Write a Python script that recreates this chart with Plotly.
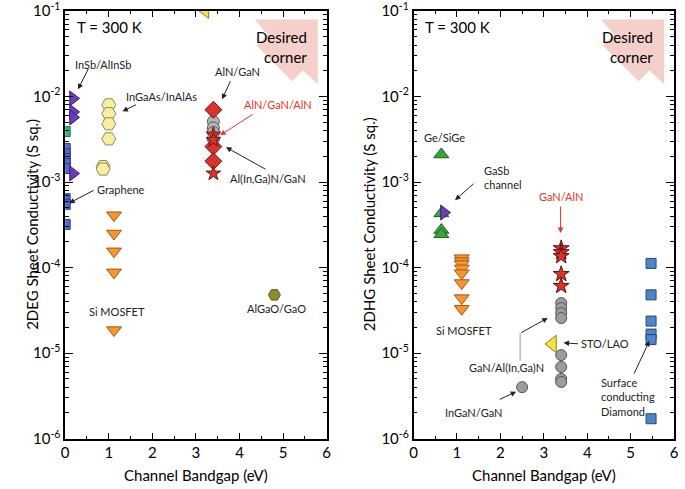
import plotly.graph_objects as go

W, H = 685, 489

# the photographed page comes out squeezed vertically (~0.963, ~9.5 px down);
# target pixel positions below are from the reference and are mapped through this
Y_OFF, Y_SCALE = 9.5, 0.963


def px(x):
    return x / W


def py(y):
    return min(1.0, 1 - (y - Y_OFF) / Y_SCALE / H)


# ---------------- 2DEG panel data ----------------
graphene_x = [0, 0, 0, 0, 0, 0, 0, 0]
graphene_y = [2.47e-3, 2.15e-3, 1.88e-3, 1.65e-3, 1.44e-3, 6.4e-4, 5.5e-4, 3.2e-4]
teal_x = [0]
teal_y = [3.9e-3]
insb_x = [0.18, 0.18, 0.18, 0.18]
insb_y = [9.5e-3, 6.6e-3, 5.7e-3, 1.26e-3]
ingaas_x = [1.0, 1.0, 1.0, 1.0, 0.87, 0.87]
ingaas_y = [8.0e-3, 6.3e-3, 4.8e-3, 3.2e-3, 1.52e-3, 1.42e-3]
si_e_x = [1.12, 1.12, 1.12, 1.12, 1.12]
si_e_y = [4.1e-4, 2.5e-4, 1.55e-4, 8.8e-5, 1.86e-5]
algao_x = [4.8]
algao_y = [4.8e-5]
sto_e_x = [3.2]
sto_e_y = [0.105]
gan_e_circ_x = [3.4, 3.4, 3.4, 3.4]
gan_e_circ_y = [5.1e-3, 4.3e-3, 3.8e-3, 3.2e-3]
aln_diam_x = [3.4, 3.4, 3.4]
aln_diam_y = [7.0e-3, 2.6e-3, 1.75e-3]
alnganaln_x = [3.4, 3.4, 3.4]
alnganaln_y = [3.6e-3, 3.1e-3, 1.26e-3]

# ---------------- 2DHG panel data ----------------
gesige_x = [0.64, 0.64, 0.64, 0.64]
gesige_y = [2.1e-3, 4.3e-4, 2.75e-4, 2.45e-4]
gasb_x = [0.7]
gasb_y = [4.4e-4]
si_h_x = [1.11, 1.11, 1.11, 1.11, 1.11, 1.11, 1.11, 1.11]
si_h_y = [1.29e-4, 1.19e-4, 1.1e-4, 9.8e-5, 8.6e-5, 6.6e-5, 4.4e-5, 3.3e-5]
ganaln_x = [3.4, 3.4, 3.4, 3.4, 3.4]
ganaln_y = [1.68e-4, 1.51e-4, 1.36e-4, 8.4e-5, 6.1e-5]
gan_h_x = [3.4, 3.4, 3.4, 3.4, 3.4, 3.4, 3.4, 3.4]
gan_h_y = [3.85e-5, 3.36e-5, 2.94e-5, 2.57e-5, 9.5e-6, 6.9e-6, 5.0e-6, 4.6e-6]
ingan_x = [2.5]
ingan_y = [4.0e-6]
sto_h_x = [3.2]
sto_h_y = [1.28e-5]
diamond_x = [5.47, 5.47, 5.47, 5.47, 5.47, 5.47]
diamond_y = [1.12e-4, 4.8e-5, 2.37e-5, 1.67e-5, 1.44e-5, 1.71e-6]

y_tickvals = [1e-6, 1e-5, 1e-4, 1e-3, 1e-2, 1e-1]
y_ticktext = ["10<sup>-6</sup>", "10<sup>-5</sup>", "10<sup>-4</sup>",
              "10<sup>-3</sup>", "10<sup>-2</sup>", "10<sup>-1</sup>"]

FONT = "Lato"

fig = go.Figure()


def add(x, y, symbol, color, line, size, xa="x", ya="y"):
    fig.add_trace(go.Scatter(
        x=x, y=y, mode="markers", xaxis=xa, yaxis=ya, showlegend=False,
        marker=dict(symbol=symbol, color=color, size=size,
                    line=dict(color=line, width=1)),
    ))


# left panel
add(graphene_x, graphene_y, "square", "#5468cf", "#2d3a8c", 10)
add(teal_x, teal_y, "square", "#2bb38a", "#1d7a5c", 10)
add(insb_x, insb_y, "triangle-right", "#6a3db8", "#3a1f70", 13)
add(ingaas_x, ingaas_y, "hexagon2", "#f5eea3", "#8c8760", 14)
add(si_e_x, si_e_y, "triangle-down", "#f7952f", "#a05a1c", 13)
add(algao_x, algao_y, "hexagon2", "#8c8c2c", "#5a5a18", 12)
add(sto_e_x, sto_e_y, "triangle-left", "#f2e24a", "#8a7f20", 16)
add(gan_e_circ_x, gan_e_circ_y, "circle", "#b4b4b4", "#5a5a5a", 12)
add(aln_diam_x, aln_diam_y, "diamond", "#d6342c", "#6e1512", 13)
add(alnganaln_x, alnganaln_y, "star", "#d6342c", "#6e1512", 11)

# right panel
add(gesige_x, gesige_y, "triangle-up", "#3aa53a", "#1e5e1e", 13, "x2", "y2")
add(gasb_x, gasb_y, "triangle-right", "#6a3db8", "#3a1f70", 13, "x2", "y2")
add(si_h_x, si_h_y, "triangle-down", "#f7952f", "#a05a1c", 13, "x2", "y2")
add(ganaln_x, ganaln_y, "star", "#d6342c", "#5e1210", 12, "x2", "y2")
add(gan_h_x, gan_h_y, "circle", "#9c9c9c", "#555555", 11, "x2", "y2")
add(ingan_x, ingan_y, "circle", "#9c9c9c", "#555555", 11, "x2", "y2")
add(sto_h_x, sto_h_y, "triangle-left", "#f2e24a", "#8a7f20", 15, "x2", "y2")
add(diamond_x, diamond_y, "square", "#4f86c6", "#24466e", 10, "x2", "y2")

xdom1 = [px(62), px(327)]
xdom2 = [px(415), px(679)]
ydom = [py(438), py(9)]

xa = dict(range=[0, 6], dtick=1, ticks="inside", ticklen=6, tickwidth=1,
          showline=True, linecolor="black", linewidth=1.5, mirror="ticks",
          showgrid=False, zeroline=False, tickcolor="black",
          ticklabeloverflow="allow",
          tickfont=dict(size=15, color="black", family=FONT),
          minor=dict(dtick=0.5, ticks="inside", ticklen=3, tickcolor="black",
                     showgrid=False))
ya = dict(type="log", range=[-6, -1], tickvals=y_tickvals, ticktext=y_ticktext,
          ticks="inside", ticklen=8, tickwidth=1, tickcolor="black",
          showline=True, linecolor="black", linewidth=1.5, mirror="ticks",
          showgrid=False, zeroline=False, ticklabeloverflow="allow",
          tickfont=dict(size=15, color="black", family=FONT),
          minor=dict(dtick="D1", ticks="inside", ticklen=4, tickcolor="black",
                     showgrid=False))

fig.update_layout(
    width=W, height=H, autosize=False,
    margin=dict(l=0, r=0, t=0, b=0),
    paper_bgcolor="white", plot_bgcolor="white",
    font=dict(family=FONT, color="black"),
    xaxis=dict(xa, domain=xdom1, anchor="y"),
    yaxis=dict(ya, domain=ydom, anchor="x"),
    xaxis2=dict(xa, domain=xdom2, anchor="y2"),
    yaxis2=dict(ya, domain=ydom, anchor="x2"),
)

# "Desired corner" arrow shapes
corner = [(254, 18), (318, 18), (318, 83), (303, 69), (292, 80), (256, 44), (267, 33)]
for dx in (0, 351):
    path = "M " + " L ".join(f"{px(x + dx):.4f},{py(y):.4f}" for x, y in corner) + " Z"
    fig.add_shape(type="path", path=path, xref="paper", yref="paper",
                  fillcolor="#f5cfc9", line=dict(width=0), layer="below")


def text(x, y, s, size=11, color="#222222", align="center", xanchor="center"):
    fig.add_annotation(x=px(x), y=py(y), xref="paper", yref="paper", text=s,
                       showarrow=False, font=dict(size=size, color=color, family=FONT),
                       align=align, xanchor=xanchor, yanchor="middle")


def arrow(x0, y0, x1, y1, color="#222222"):
    # tail (x0, y0) -> tip (x1, y1), in reference pixels
    fig.add_annotation(x=px(x1), y=py(y1), xref="paper", yref="paper", text="",
                       showarrow=True, ax=x0 - x1, ay=(y0 - y1) / Y_SCALE,
                       arrowhead=2, arrowsize=1.1, arrowwidth=1, arrowcolor=color)


# left panel labels
text(72, 26, "T = 300 K", size=15, color="black", xanchor="left")
text(281, 46, "Desired<br>corner", size=15, color="black", align="right", xanchor="center")
text(100, 63, "InSb/AlInSb")
arrow(86, 67, 75, 88)
text(160, 95, "InGaAs/InAlAs")
arrow(135, 103, 120, 110)
text(119, 188, "Graphene")
arrow(92, 189, 66, 202)
text(114, 311, "Si MOSFET")
text(276, 308, "AlGaO/GaO")
text(237, 70, "AlN/GaN")
arrow(230, 79, 221, 98)
text(278, 103, "AlN/GaN/AlN", color="#e8322a")
arrow(253, 113, 219, 134, color="#e8322a")
text(268, 177, "Al(In,Ga)N/GaN")
arrow(266, 168, 225, 146)

# right panel labels
text(425, 26, "T = 300 K", size=15, color="black", xanchor="left")
text(632, 46, "Desired<br>corner", size=15, color="black", align="right", xanchor="center")
text(446, 136, "Ge/SiGe")
text(484, 176, "GaSb<br>channel", align="left", xanchor="left")
arrow(477, 182, 457, 199)
text(564, 195, "GaN/AlN", color="#e8322a")
arrow(564, 205, 564, 232, color="#e8322a")
text(466, 330, "Si MOSFET")
text(509, 367, "GaN/Al(In,Ga)N")
fig.add_shape(type="line", xref="paper", yref="paper",
              x0=px(523), y0=py(360), x1=px(523), y1=py(332),
              line=dict(color="#999999", width=1))
arrow(523, 332, 551, 317)
text(583, 343, "STO/LAO", xanchor="left")
arrow(583, 343, 567, 342)
text(476, 412, "InGaN/GaN")
arrow(501, 399, 519, 391)
text(603, 396, "Surface<br>conducting<br>Diamond", align="left", xanchor="left")
arrow(638, 373, 654, 340)

# axis titles
text(195, 474, "Channel Bandgap (eV)", size=15, color="black")
text(547, 474, "Channel Bandgap (eV)", size=15, color="black")
fig.add_annotation(x=px(17), y=py(223), xref="paper", yref="paper",
                   text="2DEG Sheet Conductivity (S sq.)", textangle=-90,
                   showarrow=False, font=dict(size=15, color="black", family=FONT))
fig.add_annotation(x=px(370), y=py(223), xref="paper", yref="paper",
                   text="2DHG Sheet Conductivity (S sq.)", textangle=-90,
                   showarrow=False, font=dict(size=15, color="black", family=FONT))

# the page's default body margin would push the 685x489 figure off the window
fig.write_html("out.html", config={"displayModeBar": False},
               post_script="document.body.style.margin='0';"
                           "document.body.style.overflow='hidden';")
